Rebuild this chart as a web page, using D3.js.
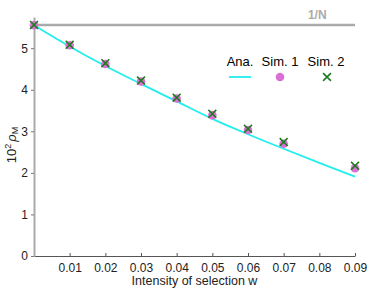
<!DOCTYPE html>
<html>
<head>
<meta charset="utf-8">
<script src="https://d3js.org/d3.v7.min.js"></script>
<style>
body { margin: 0; background: #fff; }
text { font-family: "Liberation Sans", Arial, sans-serif; }
</style>
</head>
<body>
<svg id="chart" width="374" height="290"></svg>
<script>
// data
var wTicks = [0.01, 0.02, 0.03, 0.04, 0.05, 0.06, 0.07, 0.08, 0.09];
var yTicks = [0, 1, 2, 3, 4, 5];
var anaW = [0, 0.01, 0.02, 0.03, 0.04, 0.05, 0.06, 0.07, 0.08, 0.09];
var anaRho = [5.55, 5.04, 4.57, 4.14, 3.72, 3.30, 2.93, 2.58, 2.24, 1.91];
var simW = [0, 0.01, 0.02, 0.03, 0.04, 0.05, 0.06, 0.07, 0.09];
var sim1 = [5.55, 5.07, 4.62, 4.20, 3.79, 3.39, 3.03, 2.70, 2.11];
var sim2 = [5.56, 5.08, 4.64, 4.22, 3.81, 3.42, 3.06, 2.74, 2.17];
var invN = 5.555;

var margin = {top: 17, right: 19, bottom: 34, left: 34},
    width = 374 - margin.left - margin.right,
    height = 290 - margin.top - margin.bottom;

var x = d3.scaleLinear().domain([0, 0.09]).range([0, width]);
var y = d3.scaleLinear().domain([0, 5.75]).range([height, 0]);

var svg = d3.select("#chart").append("g")
    .attr("transform", "translate(" + margin.left + "," + margin.top + ")");

// x axis
var xAxis = svg.append("g")
    .attr("transform", "translate(0," + height + ")")
    .call(d3.axisBottom(x).tickValues(wTicks).tickSize(-3).tickPadding(6).tickSizeOuter(0)
      .tickFormat(d3.format(".2f")));
xAxis.select(".domain").attr("stroke", "#555").attr("stroke-width", 1);
xAxis.selectAll(".tick line").attr("stroke", "#555");
xAxis.selectAll("text").attr("font-size", 12).attr("fill", "#222").attr("dy", "0.8em");

// y axis
var yAxis = svg.append("g")
    .call(d3.axisLeft(y).tickValues(yTicks).tickSize(3).tickPadding(3).tickSizeOuter(0)
      .tickFormat(d3.format("d")));
yAxis.select(".domain").attr("stroke", "#aaa").attr("stroke-width", 2);
yAxis.selectAll(".tick line").attr("stroke", "#777");
yAxis.selectAll("text").attr("font-size", 12).attr("fill", "#222");

// 1/N line
svg.append("line")
    .attr("x1", x(0)).attr("x2", x(0.09))
    .attr("y1", y(invN)).attr("y2", y(invN))
    .attr("stroke", "#aaa").attr("stroke-width", 2.5);
svg.append("text")
    .attr("x", x(0.0768)).attr("y", y(invN) - 6)
    .attr("font-size", 12).attr("font-weight", "bold").attr("fill", "#aaa")
    .text("1/N");

// analytic curve
var line = d3.line()
    .x(function(d, i) { return x(anaW[i]); })
    .y(function(d) { return y(d); })
    .curve(d3.curveMonotoneX);
svg.append("path")
    .datum(anaRho)
    .attr("fill", "none")
    .attr("stroke", "#22EEEE")
    .attr("stroke-width", 1.8)
    .attr("d", line);

// sim 1 circles
svg.selectAll(".s1").data(sim1).enter().append("circle")
    .attr("cx", function(d, i) { return x(simW[i]); })
    .attr("cy", function(d) { return y(d); })
    .attr("r", 4.3)
    .attr("fill", "#DA70D6");

// sim 2 crosses
var cross = d3.symbol().type(d3.symbolX).size(42);
svg.selectAll(".s2").data(sim2).enter().append("path")
    .attr("d", cross)
    .attr("transform", function(d, i) { return "translate(" + x(simW[i]) + "," + y(d) + ")"; })
    .attr("fill", "none")
    .attr("stroke", "#1E7B1E")
    .attr("stroke-width", 1.6);

// legend
var lg = d3.select("#chart").append("g");
lg.append("text").attr("x", 240).attr("y", 66).attr("text-anchor", "middle")
    .attr("font-size", 13).text("Ana.");
lg.append("text").attr("x", 280).attr("y", 66).attr("text-anchor", "middle")
    .attr("font-size", 13).text("Sim. 1");
lg.append("text").attr("x", 326).attr("y", 66).attr("text-anchor", "middle")
    .attr("font-size", 13).text("Sim. 2");
lg.append("line").attr("x1", 229).attr("x2", 251).attr("y1", 77).attr("y2", 77)
    .attr("stroke", "#22EEEE").attr("stroke-width", 1.8);
lg.append("circle").attr("cx", 280).attr("cy", 77).attr("r", 4.3).attr("fill", "#DA70D6");
lg.append("path").attr("d", cross).attr("transform", "translate(327,77)")
    .attr("fill", "none").attr("stroke", "#1E7B1E").attr("stroke-width", 1.6);

// axis labels
d3.select("#chart").append("text")
    .attr("x", margin.left + width / 2).attr("y", 285)
    .attr("text-anchor", "middle").attr("font-size", 12.5).attr("fill", "#222")
    .text("Intensity of selection w");

var yl = d3.select("#chart").append("text")
    .attr("transform", "translate(16,145) rotate(-90)")
    .attr("text-anchor", "middle").attr("font-size", 13).attr("fill", "#222");
yl.append("tspan").text("10");
yl.append("tspan").attr("font-size", 9).attr("dy", -5).text("2");
yl.append("tspan").attr("dy", 5).attr("dx", 2).attr("font-style", "italic").text("ρ");
yl.append("tspan").attr("font-size", 9).attr("dy", 2).text("M");
</script>
</body>
</html>
